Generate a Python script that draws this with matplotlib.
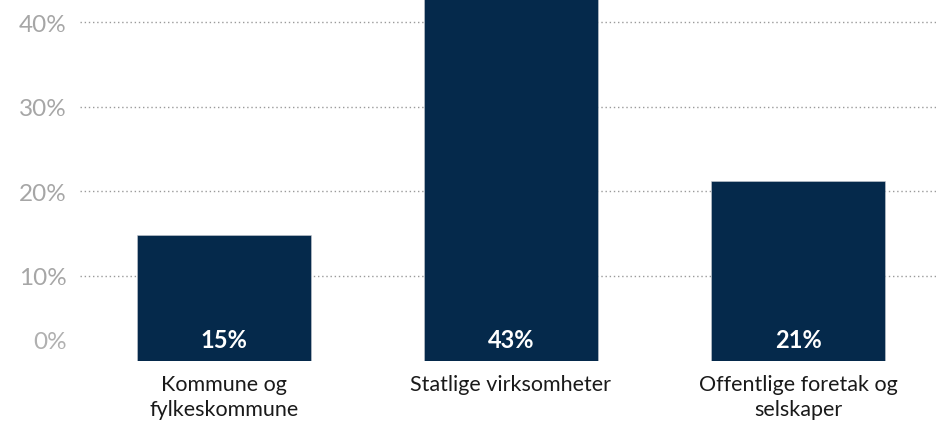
import matplotlib.pyplot as plt

categories = ["Kommune og\nfylkeskommune", "Statlige virksomheter", "Offentlige foretak og\nselskaper"]
shares = [14.9, 43.0, 21.3]
y_ticks = [0, 10, 20, 30, 40]

plt.rcParams['font.family'] = ['Lato', 'DejaVu Sans']

fig = plt.figure(figsize=(9.37, 4.27), dpi=100)
ax = fig.add_axes([80 / 937, (427 - 361.5) / 427, 857 / 937, 361.5 / 427])

x = range(len(categories))
bars = ax.bar(x, shares, width=0.605, color="#05294b", edgecolor="#c8ccd2", linewidth=0.4, zorder=2)

for b, v in zip(bars, shares):
    ax.annotate(f"{round(v)}%", (b.get_x() + b.get_width() / 2, 0), xytext=(0, 15),
                textcoords="offset points", ha="center", va="center",
                color="white", fontsize=17, fontweight="bold")

ax.set_xlim(-0.5, 2.483)
ax.set_ylim(0, 42.78)
ax.set_yticks(y_ticks)
ax.set_yticklabels(["" if t == 0 else f"{t}%" for t in y_ticks], color="#a6a6a6", fontsize=17.5)
# 0% label sits a bit above the baseline in the original
ax.annotate("0%", (0, 0), xycoords=("axes fraction", "data"), xytext=(-9.5, 13.5),
            textcoords="offset points", ha="right", va="center", color="#b0b0b0", fontsize=17.5)

ax.set_xticks(list(x))
ax.set_xticklabels(categories, fontsize=15.5, color="#1a1a1a", linespacing=1.3, va="top")
ax.tick_params(axis="both", length=0)
ax.tick_params(axis="y", pad=9.5)
ax.tick_params(axis="x", pad=10)

for t in y_ticks[1:]:
    ax.axhline(t, color="#9a9a9a", linestyle=(0, (1, 2)), linewidth=1, zorder=1)

for s in ax.spines.values():
    s.set_visible(False)

fig.savefig("out.png", dpi=100)
